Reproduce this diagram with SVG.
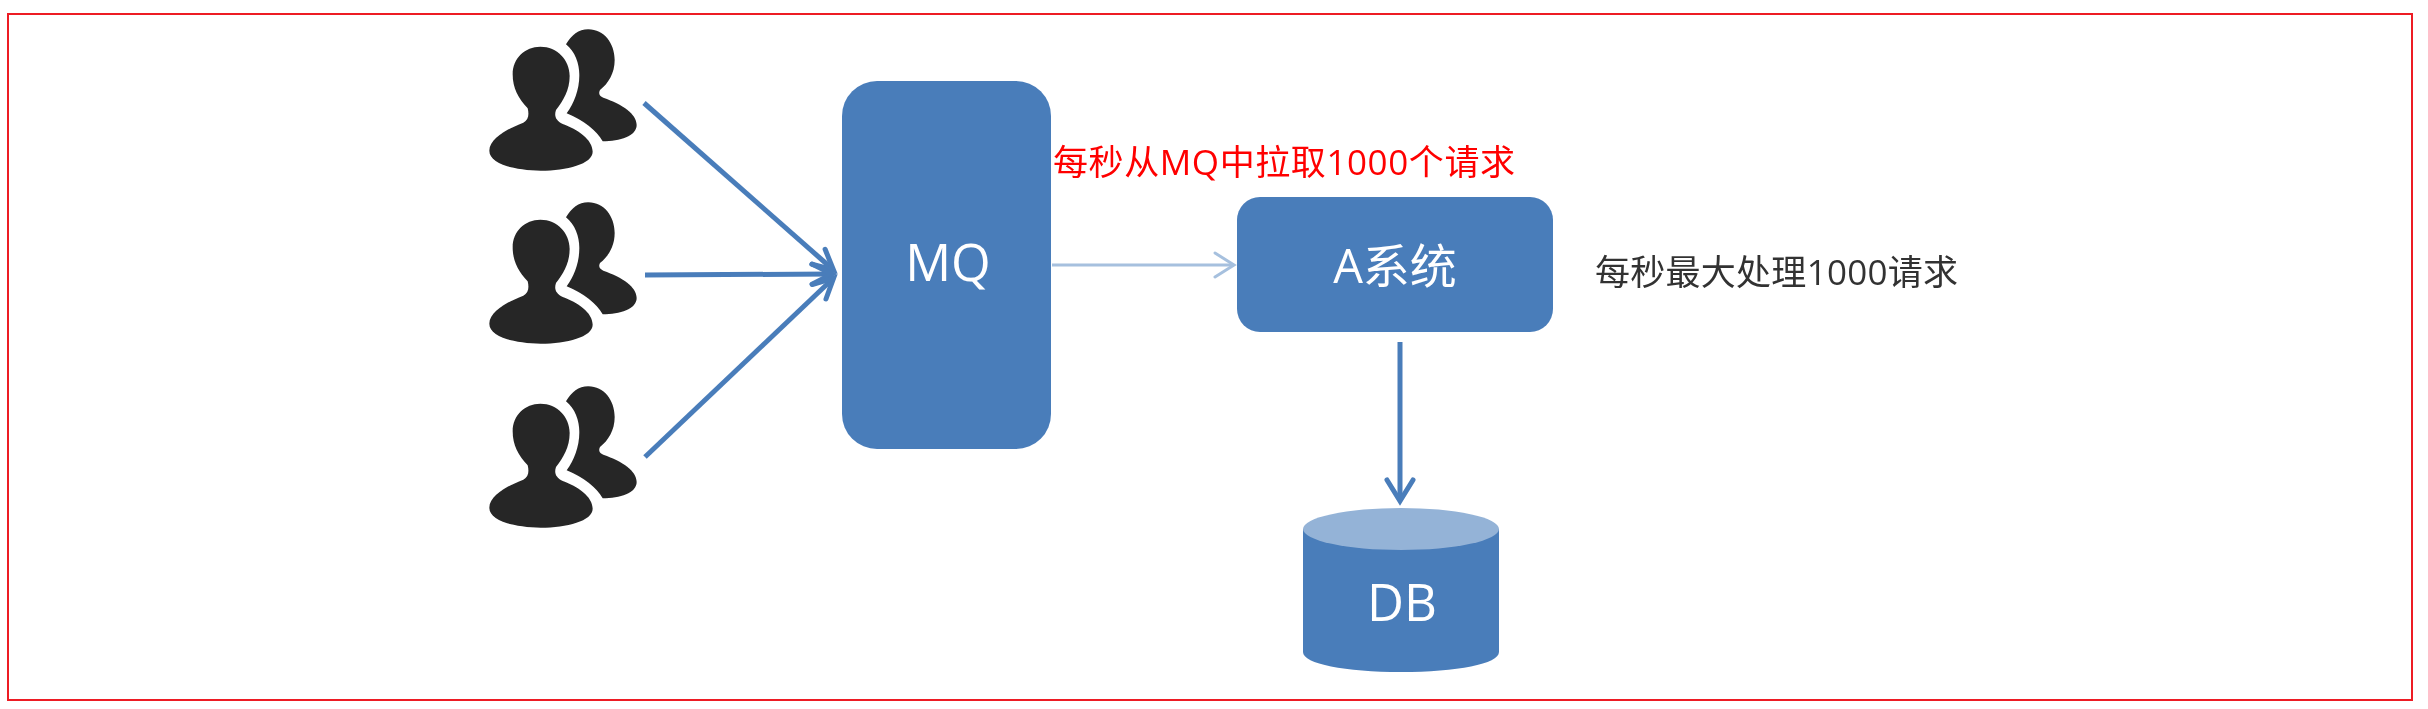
<svg xmlns="http://www.w3.org/2000/svg" width="2428" height="709" viewBox="0 0 2428 709">
  <style>
    .box { fill: #4a7dba; }
    .soft { filter: url(#soft); }
    .conn { fill: none; stroke: #4a7dba; stroke-width: 5; stroke-linecap: butt; }
    .light { stroke: #a6c0de; stroke-width: 3; }
    .label { font-family: "Open Sans", "Noto Sans CJK SC", sans-serif; font-size: 51px; fill: #ffffff; text-anchor: middle; }
    .sys { font-size: 47px; }
    .note { font-family: "Open Sans", "Noto Sans CJK SC", sans-serif; }
    .tip { fill: none; stroke-linecap: round; stroke-linejoin: miter; stroke-miterlimit: 10; }
  </style>
  <defs>
    <filter id="soft" x="-5%" y="-5%" width="110%" height="110%"><feGaussianBlur stdDeviation="0.6"/></filter>
    <marker id="arrow" markerUnits="userSpaceOnUse" viewBox="-30 -20 44 40" markerWidth="44" markerHeight="40" refX="0" refY="0" orient="auto">
      <path class="tip" d="M-20,-10 L0,0 L-20,10" stroke="#4a7dba" stroke-width="5"/>
    </marker>
    <marker id="arrowDown" markerUnits="userSpaceOnUse" viewBox="-30 -20 44 40" markerWidth="44" markerHeight="40" refX="0" refY="0" orient="auto">
      <path class="tip" d="M-21,-13 L0,0 L-21,13" stroke="#4a7dba" stroke-width="5"/>
    </marker>
    <marker id="arrowLight" markerUnits="userSpaceOnUse" viewBox="-30 -20 44 40" markerWidth="44" markerHeight="40" refX="0" refY="0" orient="auto">
      <path class="tip" d="M-19,-12 L0,0 L-19,12" stroke="#a6c0de" stroke-width="3"/>
    </marker>
    <g id="users" fill="#262626" transform="translate(460 10) scale(0.33333)">
      <path d="M203,295 C175,265 158,235 158,192 C158,145 195,110 241,110 C292,110 329,150 329,198 C329,240 310,272 288,300 C282,318 287,332 308,342 C352,358 398,388 398,425 C398,462 320,482 243,482 C165,482 88,462 88,422 C88,385 145,355 190,338 C205,330 208,315 203,295 Z"/>
      <path d="M318,103 C335,75 355,58 385,58 C432,58 464,100 464,150 C464,190 445,220 420,240 C415,250 418,258 430,263 C488,283 530,312 530,345 C530,378 480,394 428,394 C410,362 370,330 320,310 C342,280 358,240 358,195 C358,160 345,125 318,103 Z"/>
    </g>
  </defs>

  <rect width="2428" height="709" fill="#ffffff"/>
  <rect id="frame" x="8" y="14" width="2404" height="686" fill="none" stroke="#ed1c24" stroke-width="2"/>

  <g id="users-1" class="soft"><use href="#users"/></g>
  <g id="users-2" class="soft"><use href="#users" y="173"/></g>
  <g id="users-3" class="soft"><use href="#users" y="357"/></g>

  <g id="node-mq" class="soft">
    <rect class="box" x="842" y="81" width="209" height="368" rx="35" ry="35"/>
    <text class="label" x="948" y="281">MQ</text>
  </g>

  <g id="node-a" class="soft">
    <rect class="box" x="1237" y="197" width="316" height="135" rx="23" ry="23"/>
    <text class="label sys" x="1395" y="283">A系统</text>
  </g>

  <g id="node-db" class="soft">
    <path class="box" d="M1303,529 L1303,652 C1303,664 1345,672 1401,672 C1457,672 1499,664 1499,652 L1499,529 Z"/>
    <ellipse cx="1401" cy="529" rx="98" ry="21" fill="#94b3d7"/>
    <text class="label" x="1402" y="621">DB</text>
  </g>

  <g id="connectors" class="soft">
    <path class="conn" d="M644,103 L833.5,270" marker-end="url(#arrow)"/>
    <path class="conn" d="M645,275 L832,274" marker-end="url(#arrow)"/>
    <path class="conn" d="M645,457 L833.6,278" marker-end="url(#arrow)"/>
    <path class="conn light" d="M1052,265 L1234,265" marker-end="url(#arrowLight)"/>
    <path class="conn" d="M1400,342 L1400,501" marker-end="url(#arrowDown)"/>
  </g>

  <g id="note-pull" class="soft">
    <text class="note" x="1053" y="175" font-size="35" fill="#ff0000" textLength="462">每秒从MQ中拉取1000个请求</text>
  </g>
  <g id="note-capacity" class="soft">
    <text class="note" x="1595" y="285" font-size="35" fill="#333333" textLength="363">每秒最大处理1000请求</text>
  </g>
</svg>
